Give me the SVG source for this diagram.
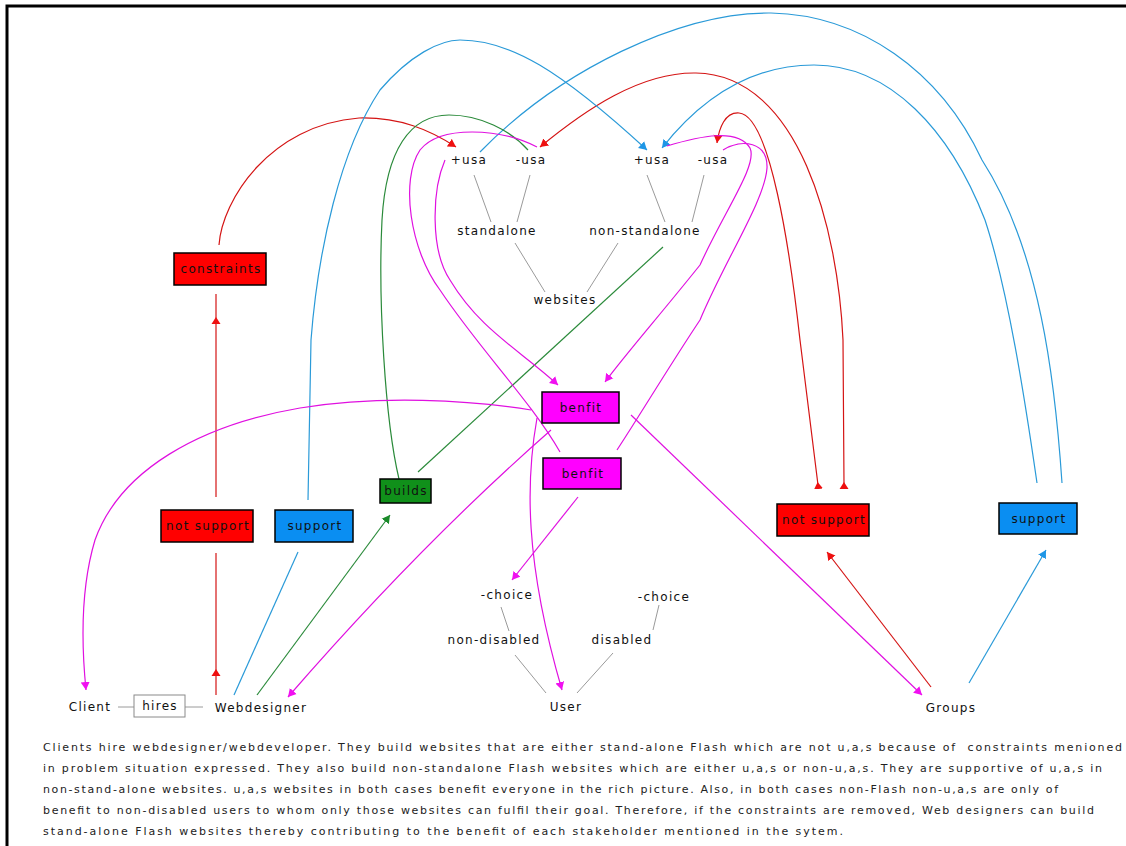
<svg xmlns="http://www.w3.org/2000/svg" width="1126" height="846" viewBox="0 0 1126 846">
<style>
text{font-family:"DejaVu Sans","Liberation Sans",sans-serif;font-size:12px;letter-spacing:1.3px;fill:#111}
.lbl{text-anchor:middle}
.box{stroke:#000;stroke-width:1.5}
.red{fill:#ff0000}
.blue{fill:#0a8ef2}
.green{fill:#10901a}
.mag{fill:#ff00ff}
.c{fill:none;stroke-width:1.2}
.cr{stroke:#d41414}
.cb{stroke:#2a9ad8}
.cg{stroke:#2a8a3a}
.cm{stroke:#e010e0}
.gray{stroke:#9a9a9a;stroke-width:1;fill:none}
.cap{font-size:11px;letter-spacing:0;fill:#222}
</style>
<defs>
<marker id="ar" markerUnits="userSpaceOnUse" markerWidth="9" markerHeight="10" refX="8" refY="5" orient="auto"><path d="M0,0.5 L8,5 L0,9.5 z" fill="#ee1010"/></marker>
<marker id="ab" markerUnits="userSpaceOnUse" markerWidth="9" markerHeight="10" refX="8" refY="5" orient="auto"><path d="M0,0.5 L8,5 L0,9.5 z" fill="#1e96e6"/></marker>
<marker id="ag" markerUnits="userSpaceOnUse" markerWidth="9" markerHeight="10" refX="8" refY="5" orient="auto"><path d="M0,0.5 L8,5 L0,9.5 z" fill="#1a8a2a"/></marker>
<marker id="am" markerUnits="userSpaceOnUse" markerWidth="9" markerHeight="10" refX="8" refY="5" orient="auto"><path d="M0,0.5 L8,5 L0,9.5 z" fill="#f010f0"/></marker>
<marker id="tr" markerUnits="userSpaceOnUse" markerWidth="9" markerHeight="10" refX="4" refY="5" orient="auto"><path d="M0,0.5 L7,5 L0,9.5 z" fill="#ee1010"/></marker>
</defs>
<rect x="0" y="0" width="1126" height="846" fill="#fff"/>
<rect x="7" y="6" width="1140" height="860" fill="none" stroke="#000" stroke-width="3"/>

<g id="connectors">
  <g class="gray">
    <path d="M474,175 L491,222"/>
    <path d="M530,175 L517,222"/>
    <path d="M647,175 L665,222"/>
    <path d="M704,175 L692,222"/>
    <path d="M515,243 L545,292"/>
    <path d="M618,243 L587,292"/>
    <path d="M501,607 L509,631"/>
    <path d="M659,605 L653,630"/>
    <path d="M515,655 L546,693"/>
    <path d="M613,653 L577,693"/>
    <path d="M118,707 L134,707"/>
    <path d="M185,707 L203,707"/>
  </g>
  <g class="c cr">
    <path d="M219,245 C222,200 270,125 359,118 C400,117 430,130 456,147" marker-end="url(#ar)"/>
    <path d="M844,485 L843,340 C838,230 800,75 696,73 C640,72 585,110 540,147" marker-start="url(#tr)" marker-end="url(#ar)"/>
    <path d="M818,485 L800,340 C790,250 770,115 739,113 C725,112 719,128 717,143" marker-start="url(#tr)" marker-end="url(#ar)"/>
    <path d="M216,695 L216,672 L216,553" marker-mid="url(#tr)"/>
    <path d="M216,497 L216,320 L216,294" marker-mid="url(#tr)"/>
    <path d="M931,687 L827,552" marker-end="url(#ar)"/>
  </g>
  <g class="c cb">
    <path d="M308,500 L311,340 C318,250 340,150 380,90 C410,55 440,40 460,40 C510,40 560,70 647,150" marker-end="url(#ab)"/>
    <path d="M1062,483 C1055,380 1040,250 982,160 C940,70 860,15 771,13 C680,12 560,70 480,152"/>
    <path d="M1037,483 C1025,400 1008,290 985,220 C950,130 890,65 814,65 C750,65 700,100 662,148" marker-end="url(#ab)"/>
    <path d="M969,683 L1046,550" marker-end="url(#ab)"/>
    <path d="M234,695 L298,552"/>
  </g>
  <g class="c cg">
    <path d="M257,695 L390,515" marker-end="url(#ag)"/>
    <path d="M399,479 C385,420 378,300 382,220 C386,150 410,115 449,115 C480,115 510,130 528,150"/>
    <path d="M418,472 L663,247"/>
  </g>
  <g class="c cm">
    <path d="M531,410 C470,400 380,395 300,408 C200,425 120,470 95,540 C80,590 82,650 86,690" marker-end="url(#am)"/>
    <path d="M551,430 Q420,545 288,697" marker-end="url(#am)"/>
    <path d="M537,418 C526,480 524,560 562,690" marker-end="url(#am)"/>
    <path d="M578,497 L512,580" marker-end="url(#am)"/>
    <path d="M631,415 L922,695" marker-end="url(#am)"/>
    <path d="M445,160 C432,190 430,250 450,280 C480,330 520,350 558,385" marker-end="url(#am)"/>
    <path d="M537,147 C500,128 440,125 420,150 C400,180 410,250 440,290 C480,350 530,400 560,452"/>
    <path d="M667,146 C700,136 738,128 750,148 C758,165 725,210 700,265 C660,315 625,355 605,382" marker-end="url(#am)"/>
    <path d="M723,150 C742,138 768,142 767,168 C765,200 725,260 700,320 C670,365 640,415 617,450"/>
  </g>
</g>

<g id="usa-plus-left"><text class="lbl" x="469" y="164">+usa</text></g>
<g id="usa-minus-left"><text class="lbl" x="531" y="164">-usa</text></g>
<g id="usa-plus-right"><text class="lbl" x="652" y="164">+usa</text></g>
<g id="usa-minus-right"><text class="lbl" x="713" y="164">-usa</text></g>
<g id="standalone"><text class="lbl" x="497" y="235">standalone</text></g>
<g id="non-standalone"><text class="lbl" x="645" y="235">non-standalone</text></g>
<g id="websites"><text class="lbl" x="565" y="304">websites</text></g>

<g id="constraints"><rect class="box red" x="174" y="253" width="92" height="32"/><text class="lbl" x="221" y="273">constraints</text></g>
<g id="not-support-left"><rect class="box red" x="161" y="510" width="92" height="32"/><text class="lbl" x="208" y="530">not support</text></g>
<g id="support-left"><rect class="box blue" x="275" y="510" width="78" height="32"/><text class="lbl" x="315" y="530">support</text></g>
<g id="builds"><rect class="box green" x="380" y="479" width="51" height="24"/><text class="lbl" x="406" y="495">builds</text></g>
<g id="benfit-1"><rect class="box mag" x="542" y="392" width="77" height="31"/><text class="lbl" x="581" y="412">benfit</text></g>
<g id="benfit-2"><rect class="box mag" x="543" y="458" width="78" height="31"/><text class="lbl" x="583" y="478">benfit</text></g>
<g id="not-support-right"><rect class="box red" x="777" y="504" width="92" height="32"/><text class="lbl" x="824" y="524">not support</text></g>
<g id="support-right"><rect class="box blue" x="999" y="503" width="78" height="31"/><text class="lbl" x="1039" y="523">support</text></g>

<g id="choice-left"><text class="lbl" x="507" y="599">-choice</text></g>
<g id="choice-right"><text class="lbl" x="664" y="601">-choice</text></g>
<g id="non-disabled"><text class="lbl" x="494" y="644">non-disabled</text></g>
<g id="disabled"><text class="lbl" x="622" y="644">disabled</text></g>

<g id="client"><text class="lbl" x="90" y="711">Client</text></g>
<g id="hires"><rect x="134" y="695" width="51" height="22" fill="#fff" stroke="#8a8a8a" stroke-width="1"/><text class="lbl" x="160" y="710">hires</text></g>
<g id="webdesigner"><text class="lbl" x="261" y="712">Webdesigner</text></g>
<g id="user"><text class="lbl" x="566" y="711">User</text></g>
<g id="groups"><text class="lbl" x="951" y="712">Groups</text></g>

<g id="caption">
<text class="cap" x="43" y="751" textLength="1079" lengthAdjust="spacing" xml:space="preserve">Clients hire webdesigner/webdeveloper. They build websites that are either stand-alone Flash which are not u,a,s because of  constraints menioned</text>
<text class="cap" x="43" y="772" textLength="1059" lengthAdjust="spacing">in problem situation expressed. They also build non-standalone Flash websites which are either u,a,s or non-u,a,s. They are supportive of u,a,s in</text>
<text class="cap" x="43" y="793" textLength="1015" lengthAdjust="spacing">non-stand-alone websites. u,a,s websites in both cases benefit everyone in the rich picture. Also, in both cases non-Flash non-u,a,s are only of</text>
<text class="cap" x="43" y="814" textLength="1051" lengthAdjust="spacing">benefit to non-disabled users to whom only those websites can fulfil their goal. Therefore, if the constraints are removed, Web designers can build</text>
<text class="cap" x="43" y="835" textLength="800" lengthAdjust="spacing">stand-alone Flash websites thereby contributing to the benefit of each stakeholder mentioned in the sytem.</text>
</g>
</svg>
